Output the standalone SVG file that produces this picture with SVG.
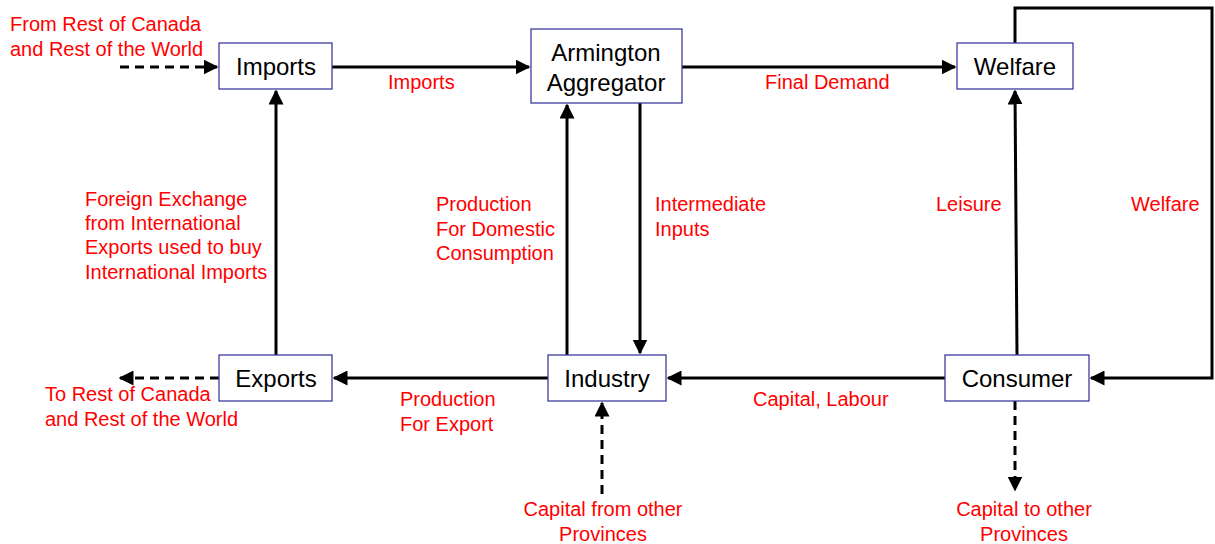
<svg xmlns="http://www.w3.org/2000/svg" width="1215" height="544" viewBox="0 0 1215 544">
<style>
.box{fill:#fff;stroke:#3c3ca0;stroke-width:1.3}
.nt{font-family:"Liberation Sans",Arial,sans-serif;font-size:24px;fill:#000;text-anchor:middle}
.lb{font-family:"Liberation Sans",Arial,sans-serif;font-size:20px;fill:#ff0000}
.ln{stroke:#000;stroke-width:3;fill:none}
.ds{stroke:#000;stroke-width:3;fill:none;stroke-dasharray:9,6}
</style>
<defs>
<marker id="ah" viewBox="0 0 10 10" refX="9" refY="5" markerWidth="5" markerHeight="5" markerUnits="strokeWidth" orient="auto">
<path d="M0,0 L10,5 L0,10 z" fill="#000"/>
</marker>
</defs>
<rect width="1215" height="544" fill="#fff"/>
<g id="connectors">
<path class="ds" d="M120,67 L217,67" marker-end="url(#ah)"/>
<path class="ln" d="M332,67 L529,67" marker-end="url(#ah)"/>
<path class="ln" d="M682,67 L955,67" marker-end="url(#ah)"/>
<path class="ln" d="M276,355 L276,91" marker-end="url(#ah)"/>
<path class="ln" d="M567,355 L567,105" marker-end="url(#ah)"/>
<path class="ln" d="M640,103 L640,353" marker-end="url(#ah)"/>
<path class="ln" d="M1017,355 L1015,91" marker-end="url(#ah)"/>
<path class="ln" d="M1015,43 L1015,8 L1212,8 L1212,378 L1091,378" marker-end="url(#ah)"/>
<path class="ln" d="M945,378 L668,378" marker-end="url(#ah)"/>
<path class="ln" d="M548,378 L334,378" marker-end="url(#ah)"/>
<path class="ds" d="M219,378 L120,378" marker-end="url(#ah)"/>
<path class="ds" d="M602,494 L602,403" marker-end="url(#ah)"/>
<path class="ds" d="M1015,401 L1015,490" marker-end="url(#ah)"/>
</g>
<g id="imports"><rect class="box" x="219" y="43" width="113" height="46"/><text class="nt" x="276" y="75">Imports</text></g>
<g id="armington"><rect class="box" x="531" y="29" width="151" height="74"/><text class="nt" x="606" y="61">Armington</text><text class="nt" x="606" y="91">Aggregator</text></g>
<g id="welfare"><rect class="box" x="957" y="43" width="116" height="46"/><text class="nt" x="1015" y="75">Welfare</text></g>
<g id="exports"><rect class="box" x="219" y="355" width="113" height="46"/><text class="nt" x="276" y="387">Exports</text></g>
<g id="industry"><rect class="box" x="548" y="355" width="118" height="46"/><text class="nt" x="607" y="387">Industry</text></g>
<g id="consumer"><rect class="box" x="945" y="355" width="144" height="46"/><text class="nt" x="1017" y="387">Consumer</text></g>
<g id="labels">
<text class="lb" x="10" y="31">From Rest of Canada</text>
<text class="lb" x="10" y="56">and Rest of the World</text>
<text class="lb" x="388" y="89">Imports</text>
<text class="lb" x="765" y="89">Final Demand</text>
<text class="lb" x="85" y="206">Foreign Exchange</text>
<text class="lb" x="85" y="230">from International</text>
<text class="lb" x="85" y="254">Exports used to buy</text>
<text class="lb" x="85" y="279">International Imports</text>
<text class="lb" x="436" y="211">Production</text>
<text class="lb" x="436" y="236">For Domestic</text>
<text class="lb" x="436" y="260">Consumption</text>
<text class="lb" x="655" y="211">Intermediate</text>
<text class="lb" x="655" y="236">Inputs</text>
<text class="lb" x="936" y="211">Leisure</text>
<text class="lb" x="1131" y="211">Welfare</text>
<text class="lb" x="45" y="401">To Rest of Canada</text>
<text class="lb" x="45" y="426">and Rest of the World</text>
<text class="lb" x="400" y="406">Production</text>
<text class="lb" x="400" y="431">For Export</text>
<text class="lb" x="753" y="406">Capital, Labour</text>
<text class="lb" x="603" y="516" text-anchor="middle">Capital from other</text>
<text class="lb" x="603" y="541" text-anchor="middle">Provinces</text>
<text class="lb" x="1024" y="516" text-anchor="middle">Capital to other</text>
<text class="lb" x="1024" y="541" text-anchor="middle">Provinces</text>
</g>
</svg>
